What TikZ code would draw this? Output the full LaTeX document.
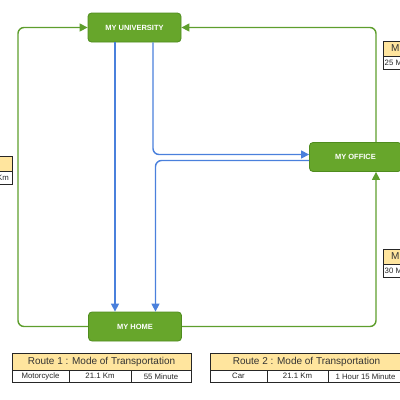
\documentclass[tikz,border=0pt]{standalone}
\usepackage{fontspec}
\setmainfont{Liberation Sans}
\usetikzlibrary{calc, positioning, arrows.meta}
\definecolor{placegreen}{HTML}{67A62B}
\definecolor{placeedge}{HTML}{4F8C1E}
\definecolor{roadgreen}{HTML}{5E9E2D}
\definecolor{pathblue}{HTML}{4A80DC}
\definecolor{headfill}{HTML}{FFE59E}
\newcommand\routetable[9]{% left x, top y, three cell widths, header, three cells
  \coordinate (T) at (#1,#2); % top left corner of the table
  \def\hdr{17}              % height of the header row
  \def\rw{12.5}             % height of the second row
  \fill[headfill] (T) rectangle ++(#3+#4+#5,\hdr);
  \draw[tablerule] (T) rectangle ++(#3+#4+#5,\hdr+\rw);
  \draw[tablerule] ($(T)+(0,\hdr)$) -- ++(#3+#4+#5,0);
  \draw[tablerule] ($(T)+(#3,\hdr)$) -- ++(0,\rw) ($(T)+(#3+#4,\hdr)$) -- ++(0,\rw);
  \node[headtext] at ($(T)+(0.5*#3+0.5*#4+0.5*#5,0.5*\hdr)$) {#6};
  \node[celltext] at ($(T)+(0.5*#3,\hdr+0.5*\rw)$) {#7};
  \node[celltext] at ($(T)+(#3+0.5*#4,\hdr+0.5*\rw)$) {#8};
  \node[celltext] at ($(T)+(#3+#4+0.5*#5,\hdr+0.5*\rw)$) {#9};
}
\newcommand\sidetable[5]{% left x, top y, width, header, row (text left aligned)
  \coordinate (S) at (#1,#2);
  \fill[headfill] (S) rectangle ++(#3,15);
  \draw[tablerule] (S) rectangle ++(#3,28) ($(S)+(0,15)$) -- ++(#3,0);
  \node[headtext, anchor=west] at ($(S)+(8,7.5)$) {#4};
  \node[celltext, anchor=west] at ($(S)+(1.5,21.5)$) {#5};
}
\tikzset{
  place/.style={rectangle, rounded corners=3.5pt, fill=placegreen, draw=placeedge, line width=0.8pt,
    minimum width=93pt, minimum height=29pt, text=white, inner sep=0pt,
    font=\fontsize{7.5}{9}\selectfont\bfseries},
  road/.style={roadgreen, line width=1.4pt, rounded corners=6pt, -{Triangle[length=8pt,width=8pt]}},
  route/.style={pathblue, line width=1.4pt, rounded corners=6pt, -{Triangle[length=8pt,width=8pt]}},
  tablerule/.style={black!85, line width=0.8pt},
  headtext/.style={inner sep=0pt, text=black!80, font=\fontsize{10}{12}\selectfont},
  celltext/.style={inner sep=0pt, text=black!85, font=\fontsize{7.8}{9}\selectfont},
}
\begin{document}
\begin{tikzpicture}[x=1pt, y=-1pt]
  \useasboundingbox (0,0) rectangle (400,400);
  \clip (0,0) rectangle (400,400);
  \node[place] (univ) at (134.5,27.5) {MY UNIVERSITY};
  \node[place] (home) at (135,326.5) {MY HOME};
  \node[place, minimum width=92pt] (office) at (355.5,157) {MY OFFICE};
  % guide lines for the connectors
  \coordinate (lft) at (18,0);
  \coordinate (rgt) at (376,0);
  \coordinate (ba) at (115,0);
  \coordinate (bb) at (153,0);
  \coordinate (bc) at (155.5,0);
  % green routes round the outside
  \draw[road] (home.west) -- (home.west -| lft) -- (univ.west -| lft) -- (univ.west);
  \draw[road] (home.east) -- (home.east -| rgt) -- (office.south -| rgt);
  \draw[road] (office.north -| rgt) -- (univ.east -| rgt) -- (univ.east);
  % blue routes inside
  \draw[route] (univ.south -| ba) -- (home.north -| ba);
  \draw[route] (univ.south -| bb) |- ($(office.west)+(0,-2.5)$);
  \draw[route] ($(office.west)+(0,3.5)$) -| (home.north -| bc);
  % tables
  \routetable{12}{353}{57}{62}{60}{Route 1 : Mode of Transportation}{Motorcycle}{21.1 Km}{55 Minute}
  \routetable{210}{353}{57}{61}{75}{Route 2 : Mode of Transportation}{Car}{21.1 Km}{1 Hour 15 Minute}
  \sidetable{383}{41}{60}{M}{25 M}
  \sidetable{383}{249}{60}{M}{30 M}
  \fill[headfill] (-50,156) rectangle (12,171);
  \draw[tablerule] (-50,156) rectangle (12,184) (-50,171) -- (12,171);
  \node[celltext, anchor=east] at (9,177.5) {Km};
\end{tikzpicture}
\end{document}
